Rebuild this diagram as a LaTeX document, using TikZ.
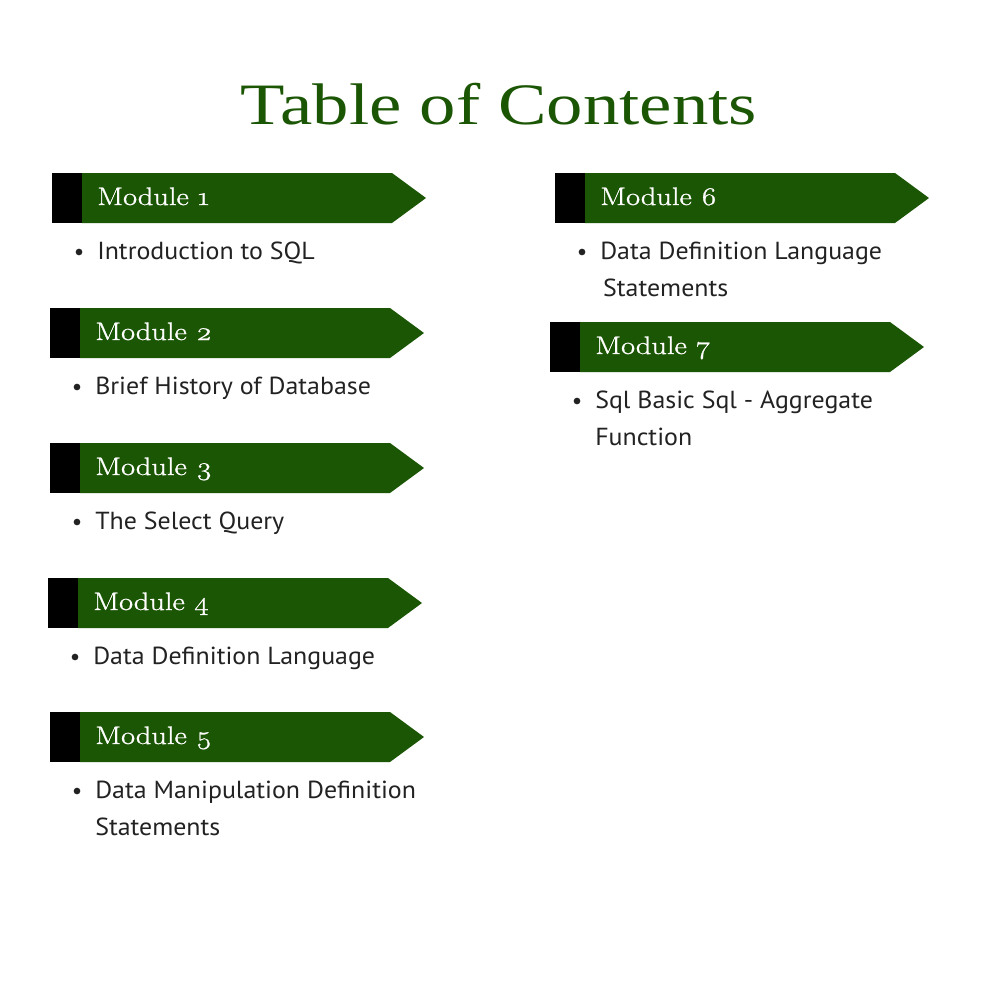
\documentclass[tikz,border=0pt]{standalone}
\usepackage{fontspec}
\setmainfont{Liberation Serif}
\newfontfamily\titlefont{Liberation Serif}[FakeStretch=1.24]
\newfontfamily\modfont{Latin Modern Roman}[Numbers=OldStyle,FakeStretch=1.2,FakeBold=1.0]
\newfontfamily\bodyfont{PT Sans}[FakeStretch=1.05]
\definecolor{tocgreen}{RGB}{27,86,4}
\definecolor{bodygray}{RGB}{34,34,34}
\tikzset{
  modlabel/.style={anchor=base west,inner sep=0pt,text=white,font=\modfont\fontsize{19}{22}\selectfont},
  itemtext/.style={anchor=base west,inner sep=0pt,text=bodygray,font=\bodyfont\fontsize{18.5}{20}\selectfont},
  bulletdot/.style={circle,fill=bodygray,inner sep=0pt,minimum size=5pt},
}
\newcommand{\tocbanner}[4]{%
  \fill[black] (#1,#2) rectangle ++(30,50);
  \fill[tocgreen] (#1+30,#2) -- (#1+340,#2) -- (#1+374,#2+25) -- (#1+340,#2+50) -- (#1+30,#2+50) -- cycle;
  \node[modlabel] (#3) at (#1+45,#2+32) {#4};
}
\newcommand{\tocitem}[5]{%
  \node[bulletdot] (#3b) at (#1+27,#2+79) {};
  \node[itemtext] (#3) at (#1+45,#2+86) {#4};
  \ifx\relax#5\relax\else\node[itemtext] (#3x) at (#1+45,#2+123) {#5};\fi
}
\begin{document}
\begin{tikzpicture}[x=0.75pt,y=-0.75pt]
\useasboundingbox (0,0) rectangle (1000,1000);
\fill[white] (0,0) rectangle (1000,1000);
\node[anchor=base,inner sep=0pt,text=tocgreen,font=\titlefont\fontsize{44}{50}\selectfont] (title) at (499,124) {Table of Contents};
\tocbanner{52}{173}{m1}{Module 1}
\tocitem{52}{173}{i1}{Introduction to SQL}{}
\tocbanner{50}{308}{m2}{Module 2}
\tocitem{50}{308}{i2}{Brief History of Database}{}
\tocbanner{50}{443}{m3}{Module 3}
\tocitem{50}{443}{i3}{The Select Query}{}
\tocbanner{48}{578}{m4}{Module 4}
\tocitem{48}{578}{i4}{Data Definition Language}{}
\tocbanner{50}{712}{m5}{Module 5}
\tocitem{50}{712}{i5}{Data Manipulation Definition}{Statements}
\tocbanner{555}{173}{m6}{Module 6}
\tocitem{555}{173}{i6}{Data Definition Language}{\hspace{2.2pt}Statements}
\tocbanner{550}{322}{m7}{Module 7}
\tocitem{550}{322}{i7}{Sql Basic Sql - Aggregate}{Function}
\end{tikzpicture}
\end{document}
